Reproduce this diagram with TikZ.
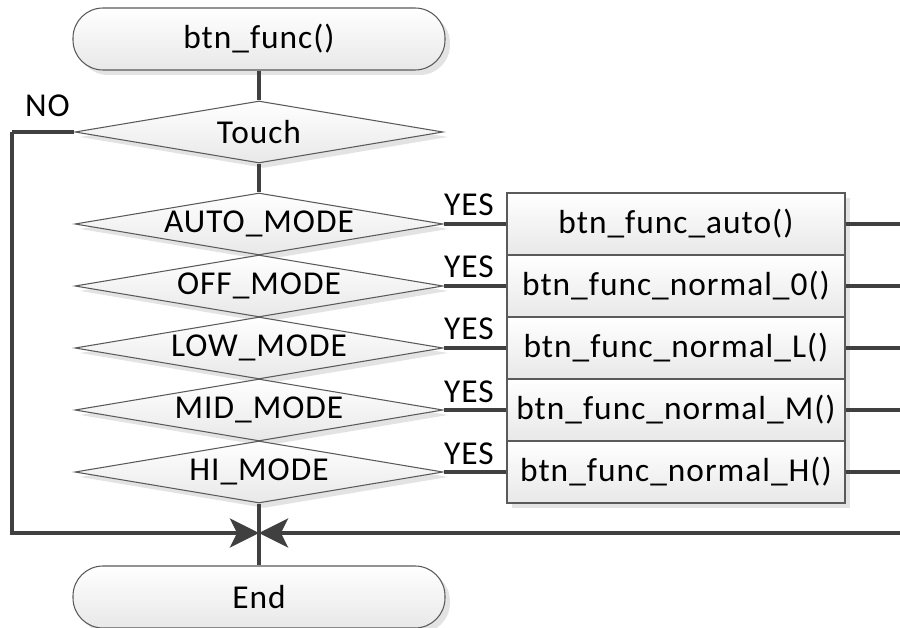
\documentclass[tikz,border=0pt]{standalone}
\usepackage{fontspec}
\setmainfont{Carlito}[LetterSpace=3]
\usepackage{tikz}
\usetikzlibrary{shapes.geometric, arrows.meta, shadows}
\definecolor{linegray}{HTML}{404040}
\definecolor{edgegray}{HTML}{5A5A5A}
\tikzstyle{shade} = [draw=edgegray, line width=0.6pt, top color=white, bottom color=black!9, drop shadow={shadow xshift=0.1cm, shadow yshift=-0.1cm, fill=black!18, opacity=0.6}]
\tikzstyle{startstop} = [rectangle, rounded corners=0.6cm, minimum width=7.44cm, minimum height=1.24cm, text centered, shade]
\tikzstyle{decision} = [diamond, aspect=6, inner sep=0pt, minimum width=7.36cm, minimum height=1.24cm, text centered, shade]
\tikzstyle{process} = [rectangle, inner sep=0pt, minimum width=6.76cm, minimum height=1.24cm, text centered, shade]
\tikzstyle{conn} = [line width=0.07cm, draw=linegray]
\tikzstyle{arrow} = [conn, -{Stealth[length=0.58cm, width=0.58cm, inset=0.14cm]}]
\tikzstyle{yes} = [anchor=base, yshift=0.16cm, xshift=-0.12cm, inner sep=0pt]

\begin{document}
\begin{tikzpicture}[node distance=1.24cm, font=\fontsize{19}{21}\selectfont]
\useasboundingbox (-5.18,0.78) rectangle (12.82,-11.78);
\node (start) [startstop] {btn\_func()};
\node (touch) [decision, below of=start, yshift=-0.62cm] {Touch};
\node (auto) [decision, below of=touch, yshift=-0.6cm] {AUTO\_MODE};
\node (off) [decision, below of=auto] {OFF\_MODE};
\node (low) [decision, below of=off] {LOW\_MODE};
\node (mid) [decision, below of=low] {MID\_MODE};
\node (hi) [decision, below of=mid] {HI\_MODE};
\node (fauto) [process, right of=auto, xshift=7.1cm] {btn\_func\_auto()};
\node (foff) [process, right of=off, xshift=7.1cm] {btn\_func\_normal\_0()};
\node (flow) [process, right of=low, xshift=7.1cm] {btn\_func\_normal\_L()};
\node (fmid) [process, right of=mid, xshift=7.1cm] {btn\_func\_normal\_M()};
\node (fhi) [process, right of=hi, xshift=7.1cm] {btn\_func\_normal\_H()};
\node (end) [startstop, below of=hi, yshift=-1.26cm] {End};
\coordinate (join) at (0,-9.88);
\coordinate (nocorner) at (-4.94,-1.86);
\coordinate (redge) at (12.82,-9.88);
\draw [conn] (start) -- (touch);
\draw [conn] (touch) -- (auto);
\draw [conn] (hi) -- (end);
\foreach \m/\f in {auto/fauto, off/foff, low/flow, mid/fmid, hi/fhi} {
  \draw [conn] (\m.east) -- node[yes] {YES} (\f.west);
  \draw [conn] (\f.east) -- (\f.east -| redge);
}
\draw [conn] (touch.west) -- node[anchor=base east, pos=0, xshift=-0.06cm, yshift=0.3cm, inner sep=0pt] {NO} (nocorner);
\draw [arrow] (nocorner) |- (join);
\draw [arrow] (redge) -- (join);
\end{tikzpicture}
\end{document}
